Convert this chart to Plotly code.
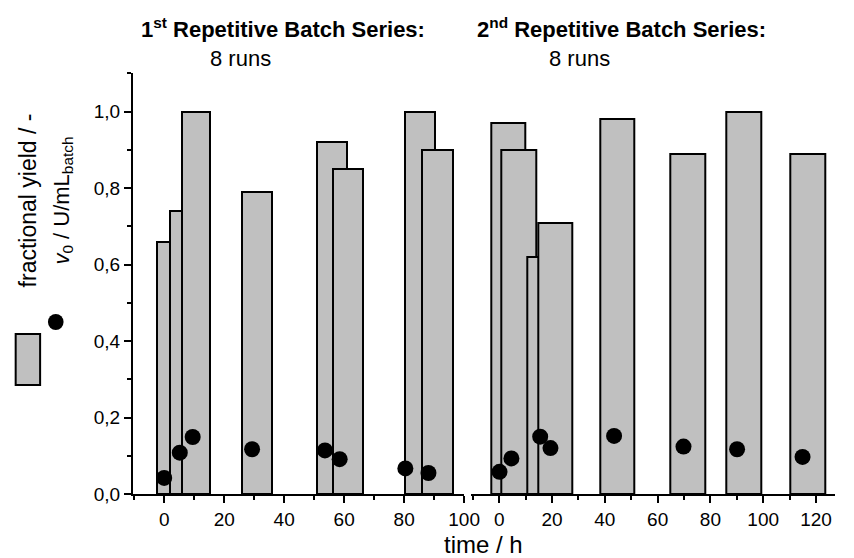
import plotly.graph_objects as go

# ---- data ----
# 1st repetitive batch series: bar extents (h) and fractional yield
left_x0 = [-2.4, 1.9, 5.8, 25.8, 50.8, 56.2, 80.2, 86.1]
left_x1 = [7.6, 11.9, 15.4, 36.1, 60.9, 66.4, 90.4, 96.2]
left_yield = [0.66, 0.74, 1.00, 0.79, 0.92, 0.85, 1.00, 0.90]
# v0 points
left_t = [0.0, 5.2, 9.5, 29.3, 53.6, 58.5, 80.4, 88.1]
left_v0 = [0.042, 0.108, 0.149, 0.117, 0.114, 0.091, 0.067, 0.055]

# 2nd repetitive batch series
right_x0 = [-3.0, 0.7, 10.8, 14.9, 38.2, 64.7, 86.0, 110.3]
right_x1 = [9.8, 13.9, 24.0, 27.7, 51.2, 77.9, 99.1, 123.4]
right_yield = [0.97, 0.90, 0.62, 0.71, 0.98, 0.89, 1.00, 0.89]
right_t = [0.1, 4.6, 15.5, 19.4, 43.5, 69.8, 90.1, 114.9]
right_v0 = [0.058, 0.093, 0.150, 0.120, 0.152, 0.124, 0.117, 0.097]

y_ticks = [0.0, 0.2, 0.4, 0.6, 0.8, 1.0]
left_xticks = [0, 20, 40, 60, 80, 100]
right_xticks = [0, 20, 40, 60, 80, 100, 120]

FONT = "Liberation Sans, Arial, Helvetica, sans-serif"
BAR_FILL = "#c0c0c0"

W, H = 854, 558
ML, MR, MT, MB = 133, 3, 73, 64
PW = W - ML - MR
PH = H - MT - MB


def px2x(px):
    return (px - ML) / PW


def px2y(py):
    return (H - MB - py) / PH


fig = go.Figure()


def add_bars(x0, x1, yv, xa):
    centers = [(a + b) / 2 for a, b in zip(x0, x1)]
    widths = [b - a for a, b in zip(x0, x1)]
    fig.add_trace(go.Bar(
        x=centers, y=yv, width=widths, base=0, xaxis=xa, yaxis="y",
        marker=dict(color=BAR_FILL, line=dict(color="black", width=2)),
        showlegend=False, hoverinfo="skip"))


def add_dots(t, v, xa):
    fig.add_trace(go.Scatter(
        x=t, y=v, mode="markers", xaxis=xa, yaxis="y",
        marker=dict(color="black", size=16, line=dict(width=0)),
        showlegend=False, cliponaxis=False))


add_bars(left_x0, left_x1, left_yield, "x")
add_bars(right_x0, right_x1, right_yield, "x2")
add_dots(left_t, left_v0, "x")
add_dots(right_t, right_v0, "x2")

d1_end = px2x(472)
d2_start = px2x(479)

TICKFONT = dict(family=FONT, size=19, color="black")

axis_common = dict(
    showline=True, linecolor="black", linewidth=2,
    ticks="outside", ticklen=7, tickwidth=2, tickcolor="black",
    showgrid=False, zeroline=False,
    tickfont=TICKFONT,
    minor=dict(ticks="outside", ticklen=4, tickwidth=2, tickcolor="black", dtick=10),
)

fig.update_layout(
    width=W, height=H,
    margin=dict(l=ML, r=MR, t=MT, b=MB, pad=0),
    paper_bgcolor="white", plot_bgcolor="white",
    separators=",.",
    barmode="overlay", bargap=0,
    font=dict(family=FONT, size=18, color="black"),
    xaxis=dict(domain=[0, d1_end], range=[-10.4, 100.1], anchor="y",
               tickvals=left_xticks, **axis_common),
    xaxis2=dict(domain=[d2_start, 1], range=[-10.6, 127.2], anchor="y",
                tickvals=right_xticks, **axis_common),
    yaxis=dict(range=[0, 1.101], anchor="x", tickvals=y_ticks, tickformat=".1f",
               showline=True, linecolor="black", linewidth=2,
               ticks="outside", ticklen=7, tickwidth=2, tickcolor="black",
               showgrid=False, zeroline=False,
               tickfont=TICKFONT,
               minor=dict(ticks="outside", ticklen=4, tickwidth=2,
                          tickcolor="black", dtick=0.1)),
    hovermode=False,
)

annotations = [
    dict(text="<b>1<sup>st</sup> Repetitive Batch Series:</b>", x=px2x(286), y=px2y(28),
         size=22),
    dict(text="8 runs", x=px2x(243), y=px2y(59), size=22),
    dict(text="<b>2<sup>nd</sup> Repetitive Batch Series:</b>", x=px2x(633), y=px2y(28),
         size=22),
    dict(text="8 runs", x=px2x(590), y=px2y(58), size=22),
    dict(text="time / h", x=px2x(491), y=px2y(544), size=24),
]
for a in annotations:
    fig.add_annotation(text=a["text"], x=a["x"], y=a["y"], xref="paper", yref="paper",
                       xanchor="center", yanchor="middle", showarrow=False,
                       font=dict(family=FONT, size=a["size"], color="black"))

# rotated y-axis title lines
fig.add_annotation(text="fractional yield / -", x=px2x(26), y=px2y(200),
                   xref="paper", yref="paper", xanchor="center", yanchor="middle",
                   showarrow=False, textangle=-90,
                   font=dict(family=FONT, size=23, color="black"))
fig.add_annotation(text="<i>v</i><sub>0</sub> / U/mL<sub>batch</sub>", x=px2x(61), y=px2y(201),
                   xref="paper", yref="paper", xanchor="center", yanchor="middle",
                   showarrow=False, textangle=-90,
                   font=dict(family=FONT, size=22, color="black"))

# legend keys
fig.add_shape(type="rect", xref="paper", yref="paper",
              x0=px2x(13), x1=px2x(38), y0=px2y(385), y1=px2y(334),
              fillcolor=BAR_FILL, line=dict(color="black", width=2))
fig.add_shape(type="circle", xref="paper", yref="paper",
              x0=px2x(46), x1=px2x(62), y0=px2y(330), y1=px2y(314),
              fillcolor="black", line=dict(color="black", width=0))

fig.write_html("out.html",
               config={"displayModeBar": False},
               post_script="document.body.style.margin='0';document.body.style.padding='0';")
